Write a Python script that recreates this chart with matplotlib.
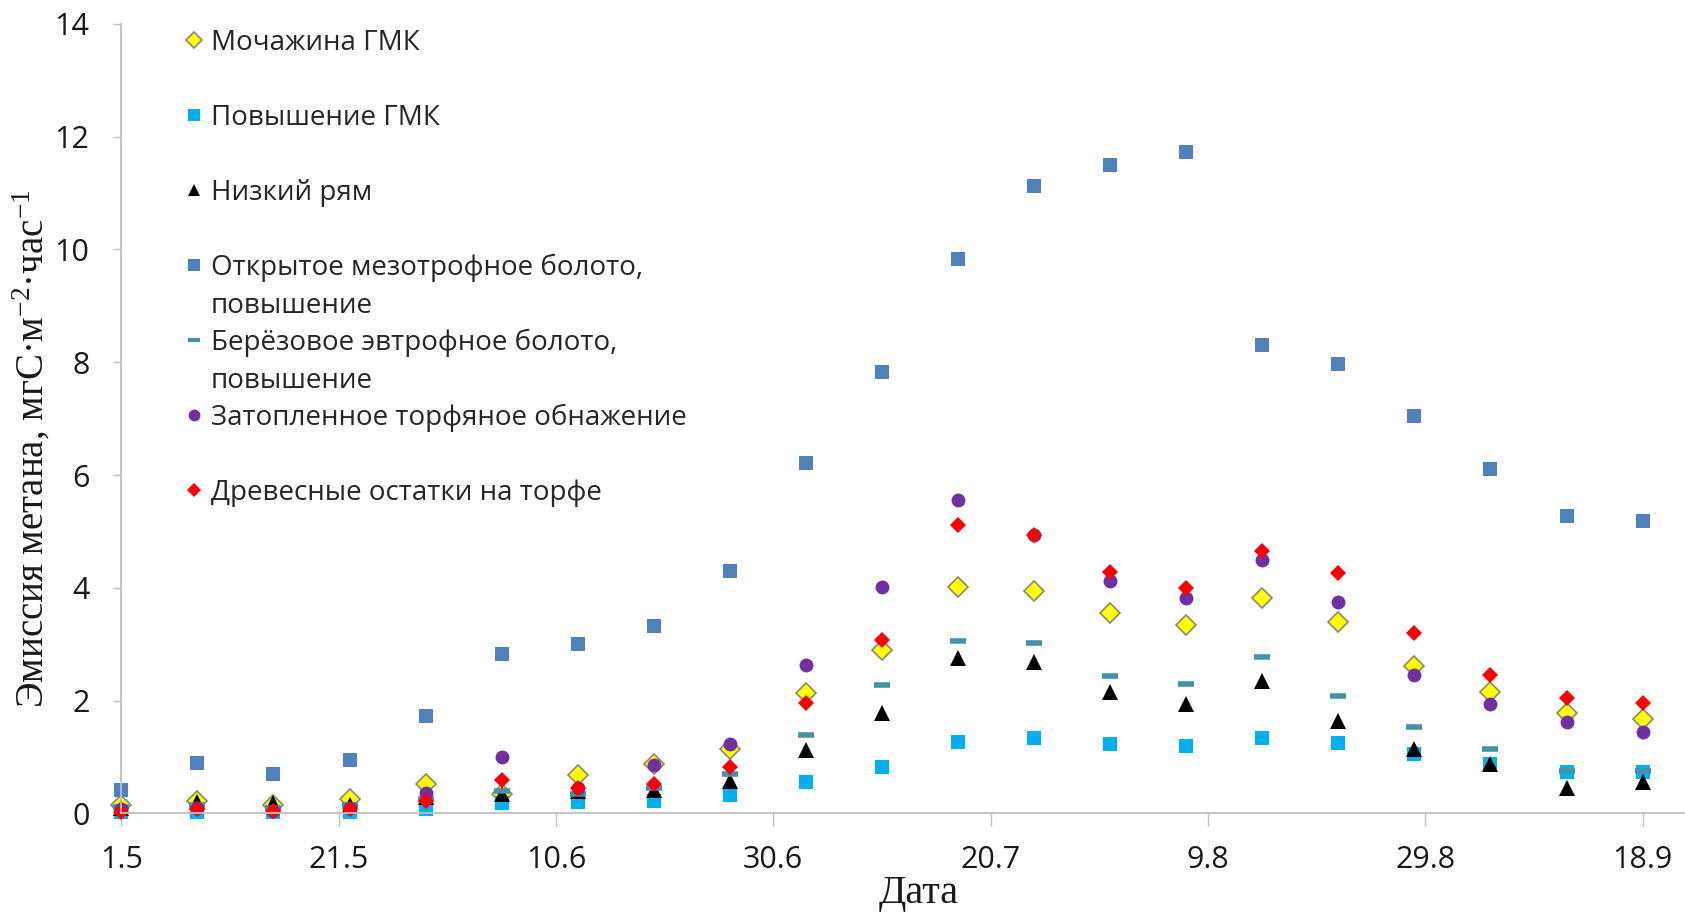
import matplotlib
matplotlib.use("Agg")
import matplotlib.pyplot as plt
from matplotlib.lines import Line2D

# Дни от 1 мая, замеры раз в неделю
days = list(range(0, 141, 7))

# Значения эмиссии (мгС·м-2·час-1)
mochazhina_gmk = [0.15, 0.22, 0.15, 0.25, 0.52, 0.35, 0.68, 0.88, 1.15, 2.13, 2.90,
                  4.01, 3.95, 3.55, 3.35, 3.82, 3.40, 2.61, 2.15, 1.78, 1.67]
povyshenie_gmk = [0.02, 0.03, 0.02, 0.03, 0.08, 0.19, 0.20, 0.23, 0.32, 0.56, 0.82,
                  1.27, 1.34, 1.23, 1.19, 1.34, 1.25, 1.05, 0.88, 0.73, 0.74]
nizkiy_ryam = [0.10, 0.20, 0.18, 0.15, 0.30, 0.35, 0.40, 0.42, 0.57, 1.12, 1.78,
               2.75, 2.68, 2.16, 1.94, 2.34, 1.64, 1.15, 0.88, 0.46, 0.55]
otkrytoe_mezo = [0.42, 0.89, 0.70, 0.94, 1.72, 2.82, 3.00, 3.32, 4.29, 6.22, 7.83,
                 9.83, 11.12, 11.49, 11.73, 8.30, 7.96, 7.05, 6.10, 5.28, 5.18]
berezovoe_evtr = [0.12, 0.15, 0.10, 0.15, 0.25, 0.40, 0.35, 0.45, 0.70, 1.39, 2.27,
                  3.05, 3.03, 2.43, 2.30, 2.77, 2.09, 1.54, 1.15, 0.75, 0.76]
zatoplennoe = [0.08, 0.10, 0.05, 0.10, 0.37, 1.01, 0.45, 0.86, 1.24, 2.64, 4.02,
               5.55, 4.93, 4.12, 3.82, 4.50, 3.75, 2.46, 1.94, 1.62, 1.45]
drevesnye = [0.02, 0.08, 0.05, 0.08, 0.22, 0.59, 0.46, 0.53, 0.83, 1.95, 3.08,
             5.12, 4.94, 4.28, 4.00, 4.65, 4.27, 3.20, 2.46, 2.04, 1.96]

# Подписи оси X (каждые 20 дней)
tick_days = [0, 20, 40, 60, 80, 100, 120, 140]
tick_labels = ["1.5", "21.5", "10.6", "30.6", "20.7", "9.8", "29.8", "18.9"]

labels = ["Мочажина ГМК", "Повышение ГМК", "Низкий рям",
          "Открытое мезотрофное болото,\nповышение",
          "Берёзовое эвтрофное болото,\nповышение",
          "Затопленное торфяное обнажение",
          "Древесные остатки на торфе"]

# стиль маркеров для каждой серии
styles = [
    dict(marker="D", ms=10, mfc="#ffff00", mec="#8a8a6a", mew=1.2),
    dict(marker="s", ms=10, mfc="#00b0f0", mec="#00b0f0", mew=0),
    dict(marker="^", ms=11, mfc="black", mec="black", mew=0),
    dict(marker="s", ms=10, mfc="#4f81bd", mec="#4f81bd", mew=0),
    dict(marker="_", ms=11, mec="#4592a8", mew=4),
    dict(marker="o", ms=10, mfc="#7030a0", mec="#7030a0", mew=0),
    dict(marker="D", ms=8.5, mfc="#ff0000", mec="#ff0000", mew=0),
]
series = [mochazhina_gmk, povyshenie_gmk, nizkiy_ryam, otkrytoe_mezo,
          berezovoe_evtr, zatoplennoe, drevesnye]

plt.rcParams["mathtext.fontset"] = "custom"
plt.rcParams["mathtext.rm"] = "Liberation Serif"
plt.rcParams["mathtext.it"] = "Liberation Serif:italic"

fig = plt.figure(figsize=(16.85, 9.13), dpi=100)
ax = fig.add_axes([0.072, 0.109, 0.928, 0.865])

for vals, st in zip(series, styles):
    ax.plot(days, vals, linestyle="none", clip_on=False, **st)

ax.set_xlim(0, 143.9)
ax.set_ylim(0, 14)
ax.set_yticks(range(0, 15, 2))
ax.set_xticks(tick_days)
ax.set_xticklabels(tick_labels)

for side in ["top", "right"]:
    ax.spines[side].set_visible(False)
for side in ["left", "bottom"]:
    ax.spines[side].set_color("#bfbfbf")
    ax.spines[side].set_linewidth(1.3)

ax.tick_params(axis="y", length=6, width=1, color="#bfbfbf", pad=17,
               labelsize=22, labelcolor="#1a1a1a")
ax.tick_params(axis="x", length=9, width=1, color="#bfbfbf", pad=14,
               labelsize=22, labelcolor="#1a1a1a")
for t in ax.get_xticklabels() + ax.get_yticklabels():
    t.set_fontfamily("Open Sans")

ax.set_ylabel("Эмиссия метана, мгС·м$^{-2}$·час$^{-1}$", family="Liberation Serif",
              fontsize=28, color="#1a1a1a")
ax.yaxis.set_label_coords(-0.044, 0.462)
ax.set_xlabel("Дата", family="Liberation Serif", fontsize=29, color="#1a1a1a")
ax.xaxis.set_label_coords(0.51, -0.078)

# легенда, нарисованная вручную (как в Excel: ровный шаг строк)
W, H = 1685, 913
row0, step = 40, 75
for i, (lab, st) in enumerate(zip(labels, styles)):
    y = 1 - (row0 + i * step) / H
    st_leg = dict(st)
    st_leg["ms"] = st["ms"] * 0.85
    if st["marker"] == "_":
        st_leg["mew"] = 3
    fig.add_artist(Line2D([194 / W], [y], transform=fig.transFigure,
                          linestyle="none", **st_leg))
    fig.text(211 / W, y + 11 / H, lab, family="Open Sans", fontsize=20,
             color="#262626", va="top", ha="left", linespacing=1.48)

fig.savefig("out.png", dpi=100)
